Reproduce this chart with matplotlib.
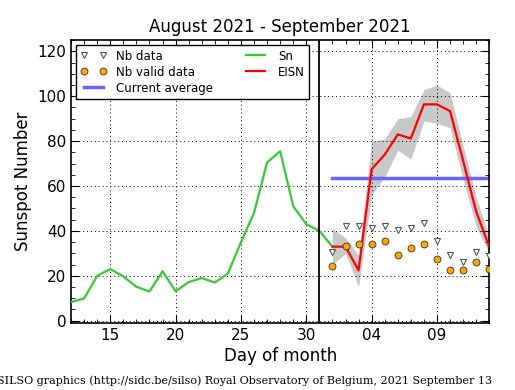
import matplotlib
matplotlib.use("Agg")
import matplotlib.pyplot as plt
from matplotlib.ticker import MultipleLocator, FuncFormatter

# day numbers counted from 1 August (32 = 1 September)
sn_days = list(range(12, 33))
sn = [8.3, 9.9, 20, 23, 19.7, 15.1, 13, 22, 13.1, 17.2, 19, 17, 21,
      35, 48, 70.5, 75.5, 51, 43, 40, 33]

eisn_days = list(range(32, 45))
eisn = [33, 33, 22.4, 67.5, 74, 83, 81.2, 96.4, 96.4, 93.4, 71.3, 48.6, 33]
eisn_hi = [41, 37, 29, 80, 81, 90, 91, 103, 105, 101.5, 78, 55, 37]
eisn_lo = [25, 30, 15, 56, 64, 76, 72, 89, 88, 86, 63, 42, 30]

nb_data = [30.7, 42.4, 42.4, 41.5, 42.4, 40.5, 41.5, 43.5, 35.6, 29.2, 26.2, 30.4, 28.9]
nb_valid = [24.2, 33.2, 34.1, 34.1, 35.5, 29.2, 32.2, 34.1, 27.4, 22.4, 22.4, 26.2, 23.2]

current_avg = 63.7
month_split = 31

fig = plt.figure(figsize=(5.15, 3.9), dpi=100)
ax = fig.add_axes([0.138, 0.172, 0.812, 0.725])

ax.fill_between(eisn_days, eisn_lo, eisn_hi, color="#c8c8c8", linewidth=0, zorder=1)
ax.plot(eisn_days, nb_data, linestyle="none", marker="v", markersize=5,
        markerfacecolor="white", markeredgecolor="#555555", markeredgewidth=0.8,
        label="Nb data", zorder=4)
ax.plot(eisn_days, nb_valid, linestyle="none", marker="o", markersize=5,
        markerfacecolor="orange", markeredgecolor="#333333", markeredgewidth=0.6,
        label="Nb valid data", zorder=4)
ax.plot([eisn_days[0], eisn_days[-1]], [current_avg, current_avg], color="#6666ff",
        linewidth=2.5, label="Current average", zorder=2)
ax.plot(sn_days, sn, color="#33cc33", linewidth=1.6, label="Sn", zorder=3)
ax.plot(eisn_days, eisn, color="red", linewidth=1.6, label="EISN", zorder=3)
ax.axvline(month_split, color="black", linewidth=1.3, zorder=5)

ax.set_xlim(12, 44)
ax.set_ylim(-1, 125)
ax.xaxis.set_major_locator(MultipleLocator(5))
ax.xaxis.set_minor_locator(MultipleLocator(1))
ax.yaxis.set_major_locator(MultipleLocator(20))
ax.yaxis.set_minor_locator(MultipleLocator(5))
ax.xaxis.set_major_formatter(FuncFormatter(
    lambda v, p: f"{int(v) - 31:02d}" if v > 31 else f"{int(v)}"))
ax.tick_params(which="both", direction="in", top=True, right=True, labelsize=11)
ax.tick_params(which="major", length=6)
ax.tick_params(which="minor", length=3)
ax.grid(True, which="major", color="black", linestyle=(0, (1, 3)), linewidth=0.7)
for s in ax.spines.values():
    s.set_linewidth(1.2)

ax.set_xlabel("Day of month", fontsize=12, labelpad=3)
ax.set_ylabel("Sunspot Number", fontsize=12)
ax.set_title("August 2021 - September 2021", fontsize=12)

leg = ax.legend(loc="upper left", ncol=2, numpoints=2, fontsize=8.5,
                fancybox=False, framealpha=1, edgecolor="black",
                borderaxespad=0.4, columnspacing=2.5, handlelength=2.2,
                labelspacing=0.25)
leg.get_frame().set_linewidth(1.0)

fig.text(-0.006, 0.015, "SILSO graphics (http://sidc.be/silso) Royal Observatory of Belgium, 2021 September 13",
         family="DejaVu Serif", fontsize=8)

fig.savefig("out.png", dpi=100)
